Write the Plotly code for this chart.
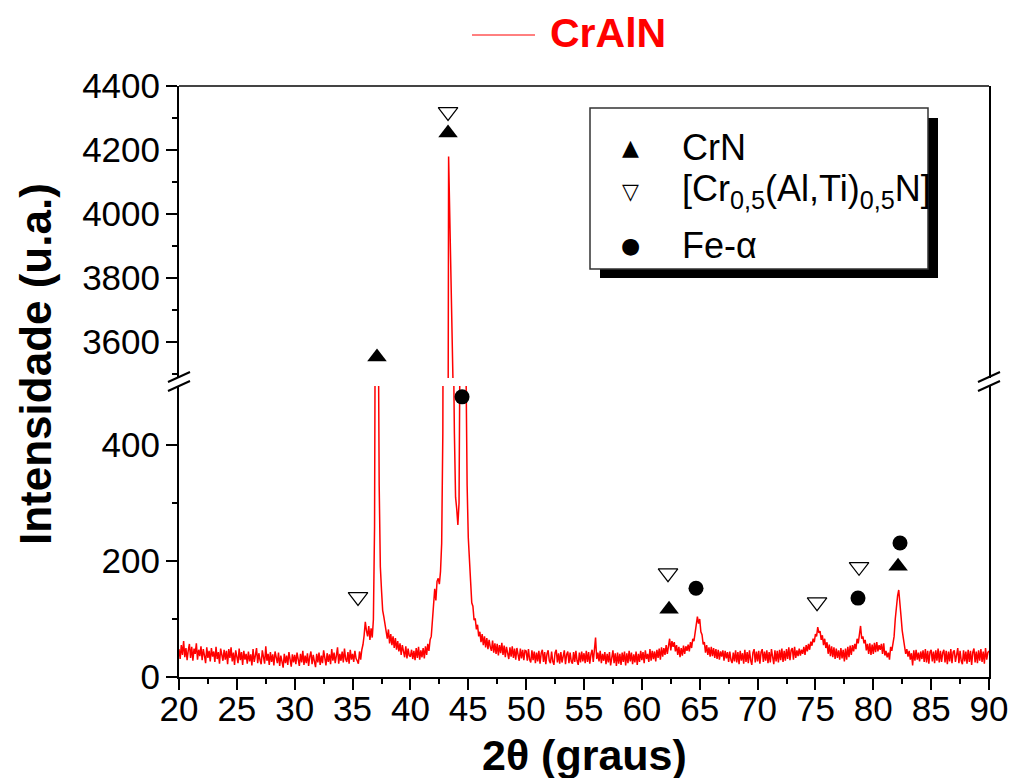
import numpy as np
import plotly.graph_objects as go

# ---- XRD scan: 2θ from 20° to 90°, step 0.1° ----
angle_start = 20.0
angle_step = 0.1

counts_20_30 = [48, 31, 55, 38, 62, 34, 50, 29, 46, 57,
                33, 52, 28, 49, 40, 58, 30, 47, 36, 53,
                29, 48, 37, 24, 51, 33, 45, 27, 50, 35,
                44, 26, 52, 31, 43, 23, 49, 34, 28, 47,
                30, 45, 22, 48, 33, 51, 27, 42, 21, 46,
                32, 24, 49, 29, 43, 21, 45, 30, 40, 23,
                44, 27, 39, 20, 48, 26, 37, 50, 24, 41,
                29, 22, 46, 31, 23, 53, 28, 40, 21, 43,
                26, 39, 20, 44, 30, 24, 42, 19, 37, 28,
                16, 40, 24, 37, 21, 43, 27, 18, 39, 25]

counts_30_40 = [38, 22, 42, 27, 19, 40, 25, 45, 21, 37,
                24, 41, 19, 35, 44, 22, 38, 27, 17, 40,
                25, 42, 21, 37, 24, 46, 28, 20, 41, 26,
                39, 22, 48, 28, 42, 24, 37, 51, 23, 40,
                28, 44, 25, 49, 31, 26, 43, 23, 47, 30,
                40, 26, 45, 32, 28, 23, 44, 30, 47, 56,
                72, 95, 80, 70, 88, 64, 84, 68, 99, 260,
                900, 2300, 700, 330, 190, 150, 115, 104, 90, 84,
                66, 82, 58, 74, 55, 70, 50, 67, 47, 62,
                44, 58, 38, 55, 41, 34, 53, 32, 49, 37]

counts_40_50 = [35, 47, 31, 45, 29, 50, 33, 52, 30, 46,
                34, 50, 32, 53, 38, 57, 45, 64, 70, 98,
                112, 152, 132, 165, 170, 160, 182, 230, 420, 640,
                950, 1400, 2200, 4180, 1900, 1150, 760, 600, 420, 310,
                290, 262, 300, 420, 900, 1300, 1100, 750, 520, 330,
                240, 190, 165, 128, 122, 98, 101, 82, 90, 70,
                78, 60, 74, 55, 70, 51, 67, 48, 64, 52,
                45, 63, 42, 58, 40, 57, 37, 55, 41, 59,
                38, 54, 34, 52, 39, 31, 51, 35, 53, 33,
                49, 30, 50, 34, 28, 49, 32, 47, 29, 46]

counts_50_60 = [45, 28, 48, 30, 25, 46, 29, 44, 24, 42,
                27, 45, 23, 41, 47, 26, 43, 22, 40, 46,
                28, 24, 44, 27, 21, 42, 47, 25, 41, 23,
                43, 25, 40, 46, 22, 39, 44, 24, 42, 27,
                23, 43, 26, 45, 28, 21, 42, 25, 44, 27,
                41, 24, 45, 26, 43, 23, 39, 47, 26, 50,
                68, 31, 42, 27, 45, 24, 40, 28, 43, 22,
                40, 25, 43, 20, 39, 46, 24, 41, 19, 42,
                23, 40, 21, 42, 26, 44, 20, 41, 24, 45,
                27, 42, 22, 39, 25, 44, 21, 40, 26, 45]

counts_60_70 = [29, 43, 24, 46, 31, 40, 26, 48, 28, 45,
                31, 44, 27, 47, 33, 49, 30, 51, 35, 50,
                38, 55, 40, 58, 66, 46, 62, 52, 60, 44,
                55, 38, 52, 34, 50, 37, 54, 40, 53, 45,
                56, 44, 60, 50, 66, 62, 80, 90, 104, 92,
                100, 78, 73, 56, 60, 42, 55, 38, 51, 35,
                52, 36, 50, 33, 48, 31, 47, 30, 44, 35,
                46, 28, 45, 32, 43, 26, 44, 29, 24, 42,
                27, 46, 25, 43, 22, 45, 28, 41, 23, 47,
                26, 43, 24, 46, 29, 21, 42, 48, 25, 44]

counts_70_80 = [27, 45, 23, 43, 48, 26, 44, 28, 46, 24,
                43, 25, 48, 29, 22, 46, 27, 45, 25, 47,
                29, 49, 26, 45, 28, 48, 31, 51, 29, 46,
                50, 30, 52, 33, 46, 36, 49, 37, 47, 40,
                52, 38, 55, 44, 57, 47, 61, 54, 66, 60,
                74, 70, 86, 76, 79, 64, 72, 55, 66, 50,
                60, 40, 56, 36, 53, 34, 51, 31, 49, 33,
                46, 30, 50, 32, 47, 27, 49, 30, 52, 34,
                54, 38, 55, 44, 57, 48, 66, 58, 72, 88,
                66, 70, 58, 64, 46, 57, 40, 58, 38, 56]

counts_80_90 = [40, 59, 43, 60, 44, 55, 47, 57, 40, 58,
                37, 45, 34, 42, 30, 52, 45, 62, 70, 100,
                125, 140, 150, 132, 104, 80, 64, 56, 40, 48,
                35, 45, 30, 41, 20, 46, 28, 47, 30, 42,
                27, 44, 31, 46, 26, 48, 25, 45, 23, 43,
                47, 27, 44, 24, 46, 28, 49, 25, 45, 26,
                42, 47, 25, 45, 22, 44, 27, 48, 24, 43,
                46, 26, 43, 50, 24, 45, 28, 22, 46, 27,
                44, 23, 47, 26, 45, 21, 43, 49, 25, 44,
                24, 46, 28, 48, 26, 44, 23, 50, 30, 42,
                45]

intensity = (counts_20_30 + counts_30_40 + counts_40_50 + counts_50_60
             + counts_60_70 + counts_70_80 + counts_80_90)
two_theta = np.round(angle_start + angle_step * np.arange(len(intensity)), 2)

# ---- phase identification marks (2θ, height of the symbol) ----
crn_theta = [37.11, 43.25, 62.35, 82.14]
crn_height = [3553, 4253, 117, 191]
craltin_theta = [35.47, 43.25, 62.26, 75.14, 78.77]
craltin_height = [138, 4319, 179, 129, 190]
fe_theta = [44.46, 64.68, 78.68, 82.31]
fe_height = [483, 153, 136, 231]

# ---- broken y axis: lower and upper segments ----
low_range = [0, 501.7]
high_range = [3487.5, 4400]
low_major = [0, 200, 400]
low_minor = [100, 300]
high_major = [3600, 3800, 4000, 4200, 4400]
high_minor = [3500, 3700, 3900, 4100, 4300]

# ---- page geometry (pixels) ----
W, H = 1011, 778
L, R, T, B = 179, 22, 86, 101
PW, PH = W - L - R, H - T - B
low_top_px = 386     # top edge of the lower segment
high_bot_px = 378    # bottom edge of the upper segment


def px(xp):
    return (xp - L) / PW


def py(yp):
    return (H - B - yp) / PH


FONT = "Liberation Sans, Arial, sans-serif"
RED = "#ff0000"

fig = go.Figure()

# diffractogram, drawn in both segments (each clipped to its own range)
for ax in ("y", "y2"):
    fig.add_trace(go.Scatter(x=two_theta, y=intensity, mode="lines", yaxis=ax,
                             line=dict(color=RED, width=1.5), name="CrAlN",
                             hoverinfo="skip"))


def split(theta, height):
    lo = [(t, h) for t, h in zip(theta, height) if h <= low_range[1]]
    hi = [(t, h) for t, h in zip(theta, height) if h >= high_range[0]]
    return lo, hi


phases = [
    ("CrN", crn_theta, crn_height,
     dict(symbol="triangle-up", size=17, color="black")),
    ("[Cr0,5(Al,Ti)0,5N]", craltin_theta, craltin_height,
     dict(symbol="triangle-down-open", size=17, color="black", line=dict(width=1.2))),
    ("Fe-α", fe_theta, fe_height,
     dict(symbol="circle", size=15, color="black")),
]
for name, th, hh, mk in phases:
    lo, hi = split(th, hh)
    for pts, ax in ((lo, "y"), (hi, "y2")):
        if pts:
            fig.add_trace(go.Scatter(x=[p[0] for p in pts], y=[p[1] for p in pts],
                                     mode="markers", marker=mk, yaxis=ax, name=name,
                                     cliponaxis=False))

tickfont = dict(family=FONT, size=35, color="black")
common_y = dict(showgrid=False, zeroline=False, showline=True, linecolor="black",
                linewidth=2, mirror=True, ticks="outside", ticklen=11, tickwidth=2,
                tickcolor="black", tickfont=tickfont, anchor="x", ticklabelstandoff=-1,
                automargin=False)

fig.update_layout(
    width=W, height=H, margin=dict(l=L, r=R, t=T, b=B, autoexpand=False),
    plot_bgcolor="white", paper_bgcolor="white", showlegend=False,
    xaxis=dict(range=[20, 90], tickvals=list(range(20, 95, 5)), showgrid=False,
               zeroline=False, showline=True, linecolor="black", linewidth=2,
               ticks="outside", ticklen=11, tickwidth=2, tickcolor="black",
               tickfont=tickfont, anchor="y", ticklabelstandoff=-11, automargin=False,
               minor=dict(dtick=2.5, ticks="outside", ticklen=5, tickwidth=2,
                          tickcolor="black")),
    yaxis=dict(domain=[0, py(low_top_px)], range=low_range, tickvals=low_major,
               minor=dict(tickvals=low_minor, ticks="outside", ticklen=5,
                          tickwidth=2, tickcolor="black"), **common_y),
    yaxis2=dict(domain=[py(high_bot_px), 1], range=high_range, tickvals=high_major,
                minor=dict(tickvals=high_minor, ticks="outside", ticklen=5,
                           tickwidth=2, tickcolor="black"), **common_y),
)

shapes = []
# top frame line
shapes.append(dict(type="line", xref="paper", yref="paper", x0=0, x1=1, y0=1, y1=1,
                   line=dict(color="#444", width=2)))
# axis-break slashes on both sides
for xa in (L, W - R):
    for yc in (377, 386):
        shapes.append(dict(type="line", xref="paper", yref="paper",
                           x0=px(xa - 11), y0=py(yc + 5), x1=px(xa + 11), y1=py(yc - 5),
                           line=dict(color="black", width=2)))
# phase key box with drop shadow
shapes.append(dict(type="rect", xref="paper", yref="paper",
                   x0=px(600), x1=px(938), y0=py(278), y1=py(118),
                   fillcolor="black", line=dict(width=0), layer="above"))
shapes.append(dict(type="rect", xref="paper", yref="paper",
                   x0=px(590), x1=px(928), y0=py(269), y1=py(108),
                   fillcolor="white", line=dict(color="#333", width=1.5), layer="above"))
# series key line for the diffractogram
shapes.append(dict(type="line", xref="paper", yref="paper", x0=px(472), x1=px(535),
                   y0=py(35), y1=py(35), line=dict(color=RED, width=1)))
fig.update_layout(shapes=shapes)

ann = []
ann.append(dict(text="<b>CrAlN</b>", x=px(548), y=py(33), xref="paper", yref="paper",
                xanchor="left", yanchor="middle", showarrow=False,
                font=dict(family=FONT, size=41, color=RED)))
ann.append(dict(text="<b>Intensidade (u.a.)</b>", x=px(35), y=py(364), xref="paper",
                yref="paper", textangle=-90, xanchor="center", yanchor="middle",
                showarrow=False, font=dict(family=FONT, size=44, color="black")))
ann.append(dict(text="<b>2θ (graus)</b>", x=px(584), y=py(755), xref="paper",
                yref="paper", xanchor="center", yanchor="middle", showarrow=False,
                font=dict(family=FONT, size=43, color="black")))

key_rows = [("▲", "CrN", 147), ("▽", "[Cr<sub>0,5</sub>(Al,Ti)<sub>0,5</sub>N]", 191),
            ("●", "Fe-α", 245)]
for sym, label, yc in key_rows:
    ann.append(dict(text=sym, x=px(630), y=py(yc), xref="paper", yref="paper",
                    xanchor="center", yanchor="middle", showarrow=False,
                    font=dict(family="DejaVu Sans", size=22, color="black")))
    ann.append(dict(text=label, x=px(680), y=py(yc), xref="paper", yref="paper",
                    xanchor="left", yanchor="middle", showarrow=False,
                    font=dict(family=FONT, size=36, color="black")))
fig.update_layout(annotations=ann)

fig.write_html("out.html")
